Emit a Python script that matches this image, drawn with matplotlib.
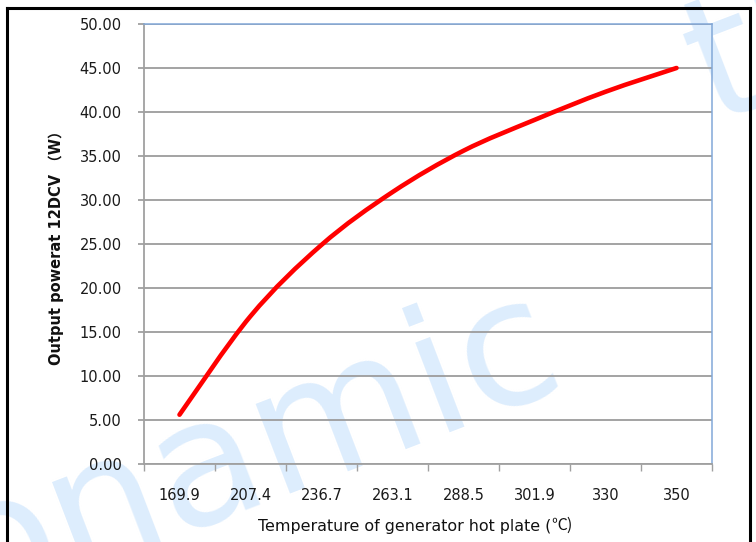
import numpy as np
import matplotlib
matplotlib.use("Agg")
import matplotlib.pyplot as plt
from matplotlib.path import Path
from matplotlib.patches import PathPatch
from matplotlib.lines import Line2D

# temperaturas (categorias) e potencia de saida
temperatura = ["169.9", "207.4", "236.7", "263.1", "288.5", "301.9", "330", "350"]
potencia = [5.6, 16.8, 24.9, 30.9, 35.6, 39.1, 42.3, 45.0]
y_ticks = [0, 5, 10, 15, 20, 25, 30, 35, 40, 45, 50]

W, H = 756, 542
fig = plt.figure(figsize=(W / 100, H / 100), dpi=100)
fig.patch.set_facecolor("white")

def fx(px):
    return px / W

def fy(py):
    return 1 - py / H

# marca d'agua azul clara atras do grafico
wm = dict(color="#ddedfd", fontsize=126, rotation=21, rotation_mode="anchor",
          ha="left", va="baseline", zorder=-5, family="DejaVu Sans")
fig.text(fx(-28), fy(612), "onamic", **wm)
fig.text(fx(712), fy(124), "th", **wm)

ax = fig.add_axes([fx(144), fy(464), fx(712) - fx(144), fy(24) - fy(464)])
ax.patch.set_alpha(0)

x = np.arange(len(potencia))
y = np.array(potencia, dtype=float)

# linha suavizada (bezier tipo Excel)
pts = np.column_stack([x, y])
ext = np.vstack([pts[0], pts, pts[-1]])
verts = [tuple(pts[0])]
codes = [Path.MOVETO]
for i in range(len(pts) - 1):
    p0, p1, p2, p3 = ext[i], ext[i + 1], ext[i + 2], ext[i + 3]
    c1 = p1 + (p2 - p0) / 6
    c2 = p2 - (p3 - p1) / 6
    verts += [tuple(c1), tuple(c2), tuple(p2)]
    codes += [Path.CURVE4] * 3
ax.add_patch(PathPatch(Path(verts, codes), fill=False, edgecolor="#ff0000",
                       lw=3.3, capstyle="round", joinstyle="round", zorder=3))

ax.set_xlim(-0.5, len(potencia) - 0.5)
ax.set_ylim(0, 50)
ax.set_yticks(y_ticks)
ax.set_yticklabels(["%.2f" % v for v in y_ticks])
ax.yaxis.grid(True, color="#9c9c9c", lw=1.3)
ax.set_axisbelow(True)

ax.set_xticks(np.arange(len(potencia) + 1) - 0.5)
ax.set_xticklabels([])
ax.set_xticks(x, minor=True)
ax.set_xticklabels(temperatura, minor=True)
ax.tick_params(axis="x", which="major", direction="out", length=5, width=1, color="#a0a0a0")
ax.tick_params(axis="x", which="minor", length=0, pad=17, labelsize=10.5, labelcolor="#1a1a1a")
ax.tick_params(axis="y", direction="out", length=4, width=1.3, color="#a0a0a0",
               pad=12, labelsize=10.5, labelcolor="#1a1a1a")

for s in ["left", "bottom"]:
    ax.spines[s].set_color("#a0a0a0")
    ax.spines[s].set_linewidth(1.3)
for s in ["top", "right"]:
    ax.spines[s].set_color("#82a8d8")
    ax.spines[s].set_linewidth(1.1)

# titulo do eixo x, com o simbolo de grau maior (fonte CJK)
t1 = fig.text(fx(551), fy(531), "Temperature of generator hot plate (", ha="right", va="baseline",
              fontsize=11.4, color="#111111")
ax.annotate("℃)", xy=(1, 0), xycoords=t1, xytext=(0.5, 0), textcoords="offset points",
            ha="left", va="bottom", fontsize=11.4, color="#111111",
            family=["Noto Sans CJK SC", "DejaVu Sans"], annotation_clip=False)

fig.text(fx(56), fy(244), "Output powerat 12DCV （W）", ha="center", va="center", rotation=90,
         fontsize=10.5, fontweight="bold", color="#111111", family=["DejaVu Sans", "Noto Sans CJK SC"])

# moldura preta externa
for xs, ys in [([7, 750], [7.5, 7.5]), ([7, 7], [7.5, 545]), ([750, 750], [7.5, 545])]:
    fig.add_artist(Line2D([fx(v) for v in xs], [fy(v) for v in ys], color="black", lw=2.2))

fig.savefig("out.png", dpi=100)
